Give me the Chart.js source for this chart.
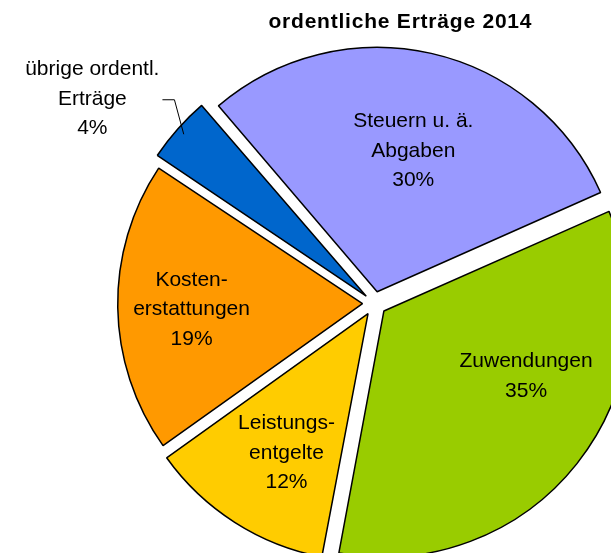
<!DOCTYPE html>
<html lang="de">
<head>
<meta charset="UTF-8">
<title>ordentliche Erträge 2014</title>
<script src="https://cdn.jsdelivr.net/npm/chart.js"></script>
<style>
  html, body { margin: 0; padding: 0; background: #fff; overflow: hidden; width: 611px; height: 553px; }
  #diagramm { position: absolute; left: 0; top: 0; }
</style>
</head>
<body>
<canvas id="diagramm" width="749" height="607"></canvas>
<script>
// Daten
const kategorien = [['Steuern u. ä.', 'Abgaben'], ['Zuwendungen'], ['Leistungs-', 'entgelte'], ['Kosten-', 'erstattungen'], ['übrige ordentl.', 'Erträge']];
const anteile = [29.6, 34.6, 12.2, 19.2, 4.4];
const farben = ['#9999ff', '#99cc00', '#ffcc00', '#ff9900', '#0066cc'];
const titel = 'ordentliche Erträge 2014';

// Lage der Beschriftungen: Abstand (Anteil vom Radius) und Winkelversatz in Grad
const labelRadius = [0.596, 0.641, 0.661, 0.701, 1.384];
const labelWinkel = [1.6, -13.7, -2.2, -1.1, -5.8];

const beschriftung = {
  id: 'beschriftung',
  afterDatasetsDraw(chart) {
    const ctx = chart.ctx;
    const meta = chart.getDatasetMeta(0);
    const summe = anteile.reduce((a, b) => a + b, 0);
    const zeile = 29.5;
    ctx.save();
    ctx.fillStyle = '#000';
    ctx.strokeStyle = '#000';
    ctx.font = '21px "Liberation Sans", Arial, sans-serif';
    ctx.textAlign = 'center';
    ctx.textBaseline = 'middle';
    meta.data.forEach((arc, i) => {
      const p = arc.getProps(['x', 'y', 'startAngle', 'endAngle', 'outerRadius']);
      const mitte = (p.startAngle + p.endAngle) / 2;
      const versatz = (arc.options.offset || 0) / 4;
      // Spitze des herausgezogenen Segments
      const sx = p.x + Math.cos(mitte) * versatz;
      const sy = p.y + Math.sin(mitte) * versatz;
      const w = mitte + labelWinkel[i] * Math.PI / 180;
      const r = p.outerRadius * labelRadius[i];
      const cx = sx + Math.cos(w) * r;
      const cy = sy + Math.sin(w) * r;
      const zeilen = kategorien[i].concat([Math.round(anteile[i] / summe * 100) + '%']);
      zeilen.forEach((t, j) => ctx.fillText(t, cx, cy + (j - (zeilen.length - 1) / 2) * zeile));
      if (labelRadius[i] > 1) {
        // Fuehrungslinie fuer aussen liegende Beschriftung
        const breite = Math.max(...zeilen.map(t => ctx.measureText(t).width));
        const rechts = cx + breite / 2;
        ctx.beginPath();
        ctx.moveTo(sx + Math.cos(mitte) * p.outerRadius, sy + Math.sin(mitte) * p.outerRadius);
        ctx.lineTo(rechts + 15, cy + 1);
        ctx.lineTo(rechts + 3, cy + 1);
        ctx.lineWidth = 1;
        ctx.stroke();
      }
    });

    // Titel
    ctx.font = 'bold 21px "Liberation Sans", Arial, sans-serif';
    ctx.textAlign = 'left';
    ctx.textBaseline = 'alphabetic';
    const breiteSoll = 263;
    const breite0 = ctx.measureText(titel).width;
    ctx.letterSpacing = Math.max(0, (breiteSoll - breite0) / (titel.length - 1)) + 'px';
    ctx.fillText(titel, 400 - breiteSoll / 2, 27.5);
    ctx.restore();
  }
};

new Chart(document.getElementById('diagramm'), {
  type: 'pie',
  data: {
    labels: kategorien.map(k => k.join(' ')),
    datasets: [{
      data: anteile,
      backgroundColor: farben,
      borderColor: '#000',
      borderWidth: 1.5,
      offset: [48, 48, 48, 48, 44],
      hoverOffset: 0,
      radius: 244
    }]
  },
  options: {
    responsive: false,
    animation: false,
    events: [],
    rotation: -40.5,
    layout: { padding: 0 },
    plugins: {
      legend: { display: false },
      title: { display: false },
      tooltip: { enabled: false }
    }
  },
  plugins: [beschriftung]
});
</script>
</body>
</html>
